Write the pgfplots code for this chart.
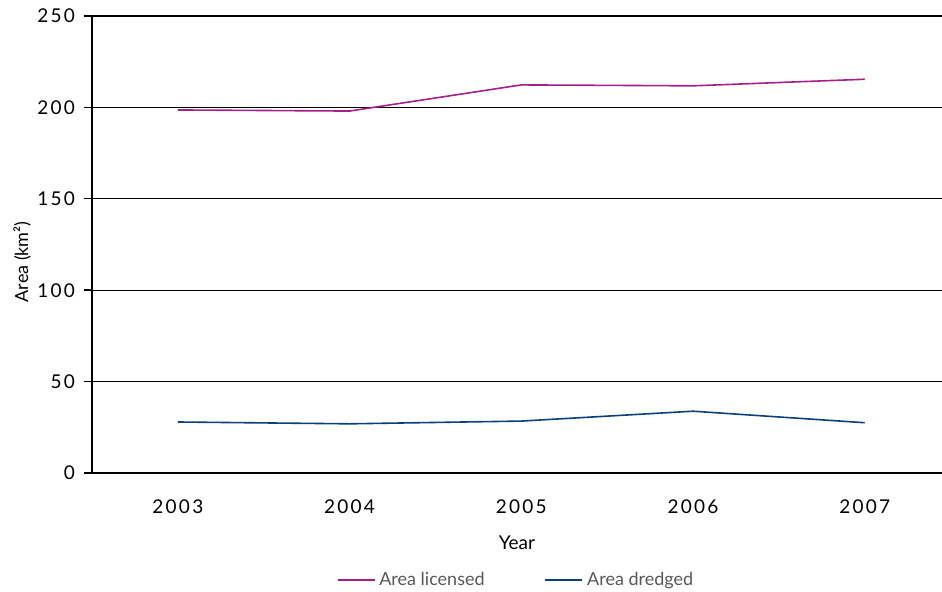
\documentclass[border=0pt]{standalone}
\usepackage{fontspec}
\setmainfont{Lato}
\newfontfamily\tickfont[LetterSpace=12]{Lato}
\usepackage{pgfplots}
\pgfplotsset{compat=1.18}
\definecolor{licensed}{RGB}{165,30,140}
\definecolor{dredged}{RGB}{10,65,125}
\begin{document}
\begin{tikzpicture}
\path[use as bounding box] (-46pt,-59.5pt) rectangle (425pt,236.5pt);
\begin{axis}[
  at={(0,0)}, anchor=south west,
  scale only axis, width=425pt, height=228.5pt,
  xmin=-0.5, xmax=4.45, ymin=0, ymax=250,
  axis x line=bottom, axis y line=left,
  axis line style={-, line width=1pt},
  xtick={0,1,2,3,4}, xticklabels={2003,2004,2005,2006,2007},
  xtick style={draw=none},
  extra x ticks={-0.5,0.5,1.5,2.5,3.5},
  extra x tick labels={},
  extra x tick style={major tick length=4pt, tick align=outside, tick style={line width=0.9pt, black}},
  ytick={0,50,100,150,200,250},
  ytick style={line width=0.7pt, black},
  tick align=outside, major tick length=4pt,
  ymajorgrids, grid style={black, line width=0.6pt},
  /pgf/number format/assume math mode=true,
  tick label style={font=\tickfont\fontsize{9.5}{11}\selectfont},
  xticklabel style={yshift=-6pt},
  yticklabel style={xshift=-1pt},
  xlabel={Year}, ylabel={Area (km²)},
  xlabel style={font=\fontsize{9.5}{11}\selectfont, at={(axis description cs:0.5,-0.153)}, anchor=center},
  ylabel style={font=\fontsize{9}{10}\selectfont, at={(axis description cs:-0.0824,0.462)}, anchor=center},
  legend style={at={(axis description cs:0.5,-0.234)}, anchor=center, draw=none, font=\fontsize{9}{10}\selectfont\color{black!65}, legend columns=2, /tikz/every even column/.append style={column sep=28pt}},
  legend image code/.code={\draw[#1, line width=0.8pt] (0cm,0cm) -- (0.65cm,0cm);},
]
\addplot[licensed, line width=0.8pt] coordinates {(0,198.6) (1,198.0) (2,212.3) (3,211.8) (4,215.4)};
\addlegendentry{Area licensed}
\addplot[dredged, line width=0.8pt] coordinates {(0,27.9) (1,26.9) (2,28.4) (3,33.8) (4,27.5)};
\addlegendentry{Area dredged}
\end{axis}
\end{tikzpicture}
\end{document}
